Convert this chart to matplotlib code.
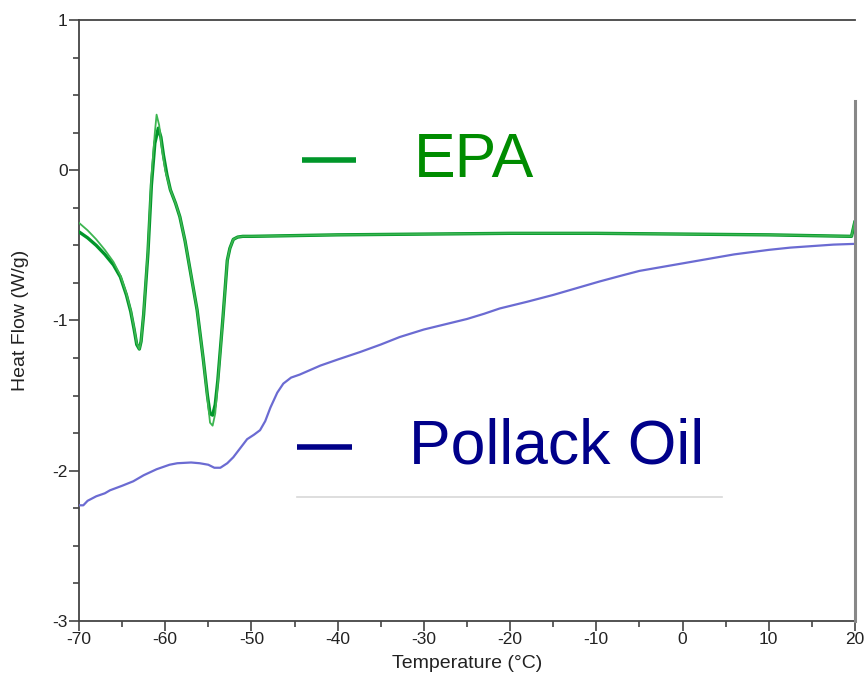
import matplotlib
matplotlib.use("Agg")
import matplotlib.pyplot as plt
from matplotlib.lines import Line2D
from matplotlib.ticker import MultipleLocator

plt.rcParams['font.family'] = ['Liberation Sans', 'DejaVu Sans']
plt.rcParams['axes.unicode_minus'] = False

# ---- data ----
epa_x_a = [-70, -69, -68, -67, -66, -65.2, -64.5, -64, -63.6, -63.3, -63.0, -62.8, -62.5,
           -62.0, -61.6, -61.2, -61.0, -60.7, -60.4, -60.0, -59.4, -58.8, -58.3, -57.7,
           -57.0, -56.3, -55.6, -55.1, -54.8, -54.5, -54.2, -53.9, -53.3, -52.8, -52.5,
           -52.1, -51.6, -51.0, -50, -40, -30, -20, -10, 0, 10, 19.6, 20.0]
epa_y_a = [-0.35, -0.40, -0.46, -0.53, -0.61, -0.70, -0.82, -0.93, -1.05, -1.15, -1.19, -1.14, -0.95,
           -0.53, -0.05, 0.25, 0.37, 0.30, 0.15, 0.00, -0.13, -0.22, -0.31, -0.47,
           -0.70, -0.93, -1.25, -1.52, -1.68, -1.70, -1.62, -1.42, -0.98, -0.60, -0.52,
           -0.46, -0.445, -0.44, -0.44, -0.43, -0.425, -0.42, -0.42, -0.425, -0.43, -0.44, -0.33]

epa_x_b = [-70, -69, -68, -67, -66, -65.2, -64.5, -64, -63.6, -63.3, -63.0, -62.8, -62.5,
           -62.0, -61.6, -61.2, -60.8, -60.5, -60.2, -59.8, -59.4, -58.8, -58.3, -57.7,
           -57.0, -56.3, -55.6, -55.1, -54.8, -54.5, -54.2, -53.9, -53.3, -52.8, -52.5,
           -52.1, -51.6, -51.0, -50, -40, -30, -20, -10, 0, 10, 19.6, 20.0]
epa_y_b = [-0.41, -0.45, -0.50, -0.56, -0.63, -0.71, -0.83, -0.94, -1.06, -1.16, -1.19, -1.14, -0.96,
           -0.55, -0.10, 0.18, 0.28, 0.22, 0.10, -0.03, -0.13, -0.22, -0.31, -0.47,
           -0.70, -0.93, -1.25, -1.50, -1.62, -1.63, -1.56, -1.40, -0.98, -0.60, -0.52,
           -0.46, -0.445, -0.44, -0.44, -0.43, -0.425, -0.42, -0.42, -0.425, -0.43, -0.44, -0.34]

oil_x = [-70, -69.5, -69, -68, -67, -66.4, -65, -63.7, -62.5, -61.0, -59.5, -58.6, -57, -56.0,
         -55, -54.3, -53.6, -52.8, -52.1, -51.3, -50.5, -49.7, -49.0, -48.4, -47.8, -47.0,
         -46.3, -45.4, -44.4, -42, -40, -37.4, -35, -32.8, -30, -27.5, -25, -23, -21.2, -18,
         -15, -12, -9.6, -7, -5, -2.5, 0, 2.0, 4, 6, 8, 10, 12.5, 15, 17.5, 20]
oil_y = [-2.23, -2.23, -2.20, -2.17, -2.15, -2.13, -2.10, -2.07, -2.03, -1.99, -1.96, -1.95, -1.945, -1.95,
         -1.96, -1.98, -1.98, -1.95, -1.91, -1.85, -1.79, -1.76, -1.73, -1.67, -1.58, -1.48,
         -1.42, -1.38, -1.36, -1.30, -1.26, -1.21, -1.16, -1.11, -1.06, -1.025, -0.99, -0.955, -0.92, -0.875,
         -0.83, -0.78, -0.74, -0.70, -0.67, -0.645, -0.62, -0.60, -0.58, -0.56, -0.545, -0.53, -0.515, -0.505, -0.495, -0.49]

x_ticks = [-70, -60, -50, -40, -30, -20, -10, 0, 10, 20]
y_ticks = [-3, -2, -1, 0, 1]
series_names = ["EPA", "Pollack Oil"]

# ---- figure ----
fig = plt.figure(figsize=(8.65, 6.77), dpi=100)
ax = fig.add_axes([0.0913, 0.0827, 0.8971, 0.8878])

ax.plot(epa_x_b, epa_y_b, color='#00962a', lw=2.4, solid_capstyle='round', zorder=3)
ax.plot(epa_x_a, epa_y_a, color='#3cb550', lw=1.3, zorder=4)
ax.plot(oil_x, oil_y, color='#6b6bd2', lw=1.6, zorder=3)

ax.set_xlim(-70, 20)
ax.set_ylim(-3, 1)
ax.set_xticks(x_ticks)
ax.set_yticks(y_ticks)
ax.set_xticklabels([str(v) for v in x_ticks])
ax.set_yticklabels([str(v) for v in y_ticks])
ax.xaxis.set_minor_locator(MultipleLocator(5))
ax.yaxis.set_minor_locator(MultipleLocator(0.25))
ax.tick_params(which='major', direction='out', length=7, width=1.2, color='#444', labelsize=12.5,
               labelcolor='#222', pad=1)
ax.tick_params(which='minor', direction='out', length=4.5, width=1.2, color='#444')
ax.tick_params(top=False, right=False)

for s in ['left', 'bottom', 'top']:
    ax.spines[s].set_color('#444')
    ax.spines[s].set_linewidth(1.3)
ax.spines['right'].set_visible(False)
ax.axvline(20, ymin=0, ymax=0.865, color='#888888', lw=2.2, clip_on=False, zorder=5)

ax.set_xlabel('Temperature (°C)', fontsize=14, color='#222', labelpad=6)
ax.set_ylabel('Heat Flow (W/g)', fontsize=14, color='#222', labelpad=17)

# ---- in-plot legend (text labels with dashes) ----
ax.add_line(Line2D([0.287, 0.357], [0.767, 0.767], transform=ax.transAxes,
                   color='#00962a', lw=4, solid_capstyle='butt'))
ax.text(0.432, 0.767, series_names[0], transform=ax.transAxes, fontsize=45,
        color='#008c00', va='center', ha='left')
ax.add_line(Line2D([0.281, 0.352], [0.290, 0.290], transform=ax.transAxes,
                   color='#000088', lw=4, solid_capstyle='butt'))
ax.text(0.425, 0.290, series_names[1], transform=ax.transAxes, fontsize=45,
        color='#00008a', va='center', ha='left')
ax.add_line(Line2D([0.281, 0.829], [0.206, 0.206], transform=ax.transAxes,
                   color='#d8d8d8', lw=1.2))

fig.savefig('out.png', dpi=100, facecolor='white')
